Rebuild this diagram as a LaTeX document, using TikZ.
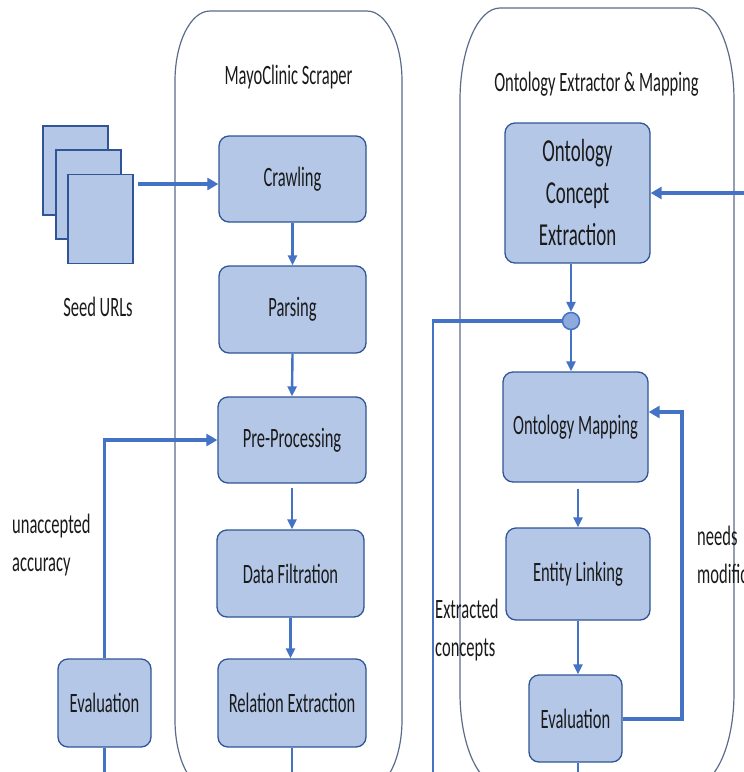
\documentclass[tikz,border=0pt]{standalone}
\usepackage{fontspec}
\setmainfont[FakeStretch=0.59]{Carlito}
\usetikzlibrary{arrows.meta}

\definecolor{boxfill}{HTML}{B4C7E7}
\definecolor{boxline}{HTML}{2F5597}
\definecolor{flow}{HTML}{4472C4}
\definecolor{frame}{HTML}{5B6B8A}
\definecolor{circfill}{HTML}{8EA9DB}
\definecolor{ink}{HTML}{1A1A1A}

\tikzset{
  stage/.style={draw=boxline, fill=boxfill, line width=1.3pt, rounded corners=10pt,
    text=ink, font=\fontsize{28}{38}\selectfont, inner sep=0pt, align=center},
  note/.style={text=ink, font=\fontsize{28}{38}\selectfont, inner sep=0pt},
  link/.style={draw=flow, line width=2.4pt, -{Triangle[length=10pt,width=9pt]}},
  boldlink/.style={draw=flow, line width=4pt, -{Triangle[length=11pt,width=12pt]}},
  plain/.style={draw=flow, line width=2.4pt},
  container/.style={draw=frame, line width=1.2pt},
  page/.style={draw=boxline, fill=boxfill, line width=1.5pt, inner sep=0pt,
    minimum width=65pt, minimum height=89pt},
  junction/.style={circle, draw=flow, fill=circfill, line width=1.5pt,
    minimum size=17pt, inner sep=0pt}
}

% rectangle with elliptical corners: x1 y1 x2 y2 rx ry
\newcommand\ellbox[6]{%
  \draw[container] ({#1+#5},#2) -- ({#3-#5},#2)
    .. controls ({#3-#5+0.552*#5},#2) and (#3,{#2+#6-0.552*#6}) .. (#3,{#2+#6})
    -- (#3,{#4-#6})
    .. controls (#3,{#4-#6+0.552*#6}) and ({#3-#5+0.552*#5},#4) .. ({#3-#5},#4)
    -- ({#1+#5},#4)
    .. controls ({#1+#5-0.552*#5},#4) and (#1,{#4-#6+0.552*#6}) .. (#1,{#4-#6})
    -- (#1,{#2+#6})
    .. controls (#1,{#2+#6-0.552*#6}) and ({#1+#5-0.552*#5},#2) .. ({#1+#5},#2) -- cycle;}

\begin{document}
\begin{tikzpicture}[x=1pt,y=-1pt]
\useasboundingbox (0,0) rectangle (744,772);
\clip (0,0) rectangle (744,772);

% the two module frames
\ellbox{175}{11}{402}{790}{35}{70}
\ellbox{460}{8}{734}{785}{40}{92}

\node[note, anchor=base] (scrtitle) at (288.5,84) {MayoClinic Scraper};
\node[note, anchor=base] (onttitle) at (596.5,91) {Ontology Extractor \& Mapping};

% seed URL pages
\node[page] (page1) at (75.5,170.5) {};
\node[page] (page2) at (88.5,194.5) {};
\node[page] (page3) at (100.5,219) {};
\node[note, anchor=base] (seedlbl) at (98,316) {Seed URLs};

% scraper stages
\node[stage, minimum width=147pt, minimum height=86pt] (crawl) at (292.5,179) {Crawling};
\node[stage, minimum width=147pt, minimum height=87pt] (parse) at (292.5,309.5) {Parsing};
\node[stage, minimum width=148pt, minimum height=86pt] (prep) at (292,440) {Pre-Processing};
\node[stage, minimum width=147pt, minimum height=87pt] (filt) at (290.5,573.5) {Data Filtration};
\node[stage, minimum width=148pt, minimum height=88pt] (rel) at (292,703) {Relation Extraction};
\node[stage, minimum width=93pt, minimum height=88pt] (evalL) at (104.5,703) {Evaluation};

% ontology stages
\node[stage, minimum width=145pt, minimum height=140pt, font=\fontsize{32}{42}\selectfont] (oce) at (577.5,193) {Ontology\\Concept\\Extraction};
\node[junction] (circ) at (571,321) {};
\node[stage, minimum width=145pt, minimum height=110pt] (omap) at (575.5,427) {Ontology Mapping};
\node[stage, minimum width=144pt, minimum height=92pt] (elink) at (578,574) {Entity Linking};
\node[stage, minimum width=93pt, minimum height=87pt] (evalR) at (575.5,718.5) {Evaluation};

% labels (anchored on the baseline of their last line)
\node[note, anchor=base west, align=left] (unacc) at (12,571) {unaccepted\\accuracy};
\node[note, anchor=base west, align=left] (extr) at (435,656) {Extracted\\concepts};
\node[note, anchor=base west, align=left] (needs) at (697,583) {needs\\modification};

% helper points at the edges
\coordinate (bottomedge) at (0,780);
\coordinate (seedin) at ([yshift=-5pt]crawl.west);
\coordinate (tapline) at (433,0);
\coordinate (loopx) at (682,0);
\coordinate (omapin) at ([yshift=15pt]omap.east);
\coordinate (rightin) at (750,193);

% scraper flow
\draw[boldlink, shorten <=4pt] (page3.east |- seedin) -- (seedin);
\draw[link] (crawl.south) -- (parse.north);
\draw[link] (parse.south) -- (prep.north);
\draw[link, shorten <=4pt] (prep.south) -- (prep.south |- filt.north);
\draw[link] (filt.south) -- (filt.south |- rel.north);
\draw[plain] (rel.south) -- (rel.south |- bottomedge);
\draw[plain] (evalL.south) -- (evalL.south |- bottomedge);
\draw[plain] (evalL.north) -- (evalL.north |- prep.west);
\draw[boldlink, shorten <=-1.2pt] (evalL.north |- prep.west) -- (prep.west);

% ontology flow
\draw[boldlink] (rightin) -- (rightin -| oce.east);
\draw[link] (oce.south -| circ.north) -- (circ.north);
\draw[link] (circ.south) -- (circ.south |- omap.north);
\draw[plain, line width=4pt] (circ.west) -- ([xshift=-1.2pt]circ.west -| tapline);
\draw[plain] (circ.west -| tapline) -- (tapline |- bottomedge);
\draw[link, shorten <=6pt] (omap.south -| elink.north) -- (elink.north);
\draw[link] (elink.south) -- (elink.south |- evalR.north);
\draw[plain] (evalR.south -| elink.south) -- (elink.south |- bottomedge);
\draw[boldlink] (evalR.east) -- (evalR.east -| loopx) -- (loopx |- omapin) -- (omapin);
\end{tikzpicture}
\end{document}
